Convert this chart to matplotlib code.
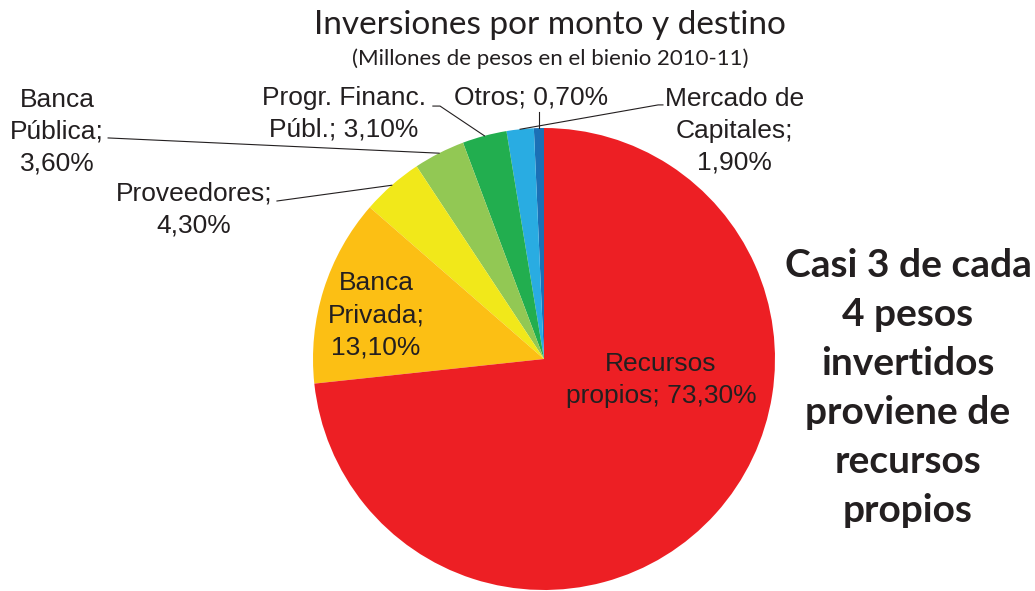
import matplotlib
matplotlib.use('Agg')
import matplotlib.pyplot as plt
import numpy as np

# Datos (orden antihorario desde las 12)
categorias = ['Otros', 'Mercado de Capitales', 'Progr. Financ. Públ.', 'Banca Pública',
              'Proveedores', 'Banca Privada', 'Recursos propios']
porcentajes = [0.7, 1.9, 3.1, 3.6, 4.3, 13.1, 73.3]
colores = ['#1B70B6', '#29ACE2', '#22AE4F', '#92C854', '#F1E81A', '#FCBF14', '#ED1F24']

etiquetas = ['Otros; 0,70%', 'Mercado de\nCapitales;\n1,90%', 'Progr. Financ.\nPúbl.; 3,10%',
             'Banca\nPública;\n3,60%', 'Proveedores;\n4,30%', 'Banca\nPrivada;\n13,10%',
             'Recursos\npropios; 73,30%']

# posiciones de las etiquetas (coordenadas del pie) y inicio de las lineas guia
pos_etiquetas = [(-0.056, 1.13), (0.823, 0.987), (-0.866, 1.061), (-2.108, 0.983),
                 (-1.515, 0.649), (-0.727, 0.190), (0.506, -0.091)]
inicio_lineas = [None, [(0.515, 1.100), (0.494, 1.100)], [(-0.481, 1.095), (-0.450, 1.095)],
                 [(-1.887, 0.957)], [(-1.156, 0.684)], None, None]

color_texto = '#231F20'

fig = plt.figure(figsize=(10.35, 5.91), dpi=100)
ax = fig.add_axes([0.3024, 0.0017, 0.4464, 0.7817])

wedges, _ = ax.pie(porcentajes, colors=colores, startangle=90, counterclock=True,
                   wedgeprops={'linewidth': 0})
ax.set_xlim(-1, 1)
ax.set_ylim(-1, 1)
ax.set_aspect('equal')
ax.axis('off')

for i, w in enumerate(wedges):
    ax.text(pos_etiquetas[i][0], pos_etiquetas[i][1], etiquetas[i], ha='center', va='center',
            fontsize=19, family='Liberation Sans', color=color_texto, linespacing=1.42,
            clip_on=False)
    mid = np.deg2rad((w.theta1 + w.theta2) / 2)
    fin = (np.cos(mid), np.sin(mid))
    if i == 0:
        pts = [(fin[0], 1.069), fin]
    elif inicio_lineas[i] is not None:
        pts = inicio_lineas[i] + [fin]
    else:
        continue
    xs, ys = zip(*pts)
    ax.plot(xs, ys, color=color_texto, lw=0.8, clip_on=False)

fig.text(550 / 1035, 1 - 25 / 591, 'Inversiones por monto y destino', ha='center', va='center',
         fontsize=24, family='Lato', color=color_texto)
fig.text(550 / 1035, 1 - 59 / 591, '(Millones de pesos en el bienio 2010-11)', ha='center',
         va='center', fontsize=16, family='Lato', color=color_texto)

fig.text(908 / 1035, 1 - 388 / 591,
         'Casi 3 de cada\n4 pesos\ninvertidos\nproviene de\nrecursos\npropios',
         ha='center', va='center', fontsize=28, family='Lato', fontweight='bold',
         color=color_texto, linespacing=1.48)

fig.savefig('out.png', dpi=100, facecolor='white')
